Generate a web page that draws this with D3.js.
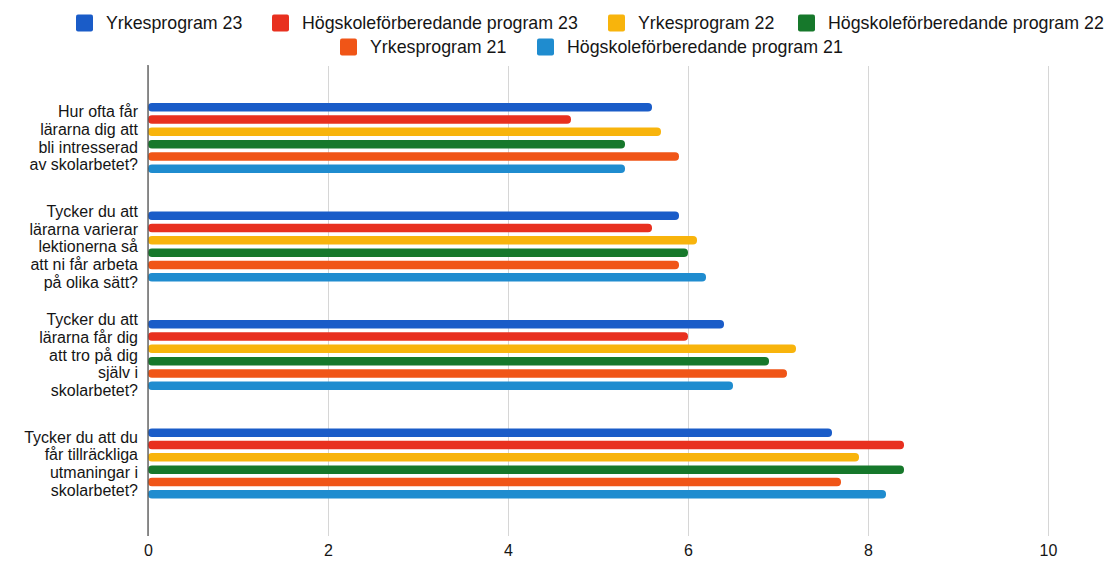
<!DOCTYPE html>
<html lang="sv">
<head>
<meta charset="UTF-8"/>
<title>Enkät - program</title>
<script src="https://d3js.org/d3.v7.min.js"></script>
<style>
	body { margin: 0; background: #fff; }
	text { font-family: "Liberation Sans", Arial, sans-serif; fill: #151515; }
</style>
</head>
<body>
<script>
	// ***data***
	var questions = [
		["Hur ofta får", "lärarna dig att", "bli intresserad", "av skolarbetet?"],
		["Tycker du att", "lärarna varierar", "lektionerna så", "att ni får arbeta", "på olika sätt?"],
		["Tycker du att", "lärarna får dig", "att tro på dig", "själv i", "skolarbetet?"],
		["Tycker du att du", "får tillräckliga", "utmaningar i", "skolarbetet?"]
	];
	var seriesNames = ["Yrkesprogram 23", "Högskoleförberedande program 23", "Yrkesprogram 22",
		"Högskoleförberedande program 22", "Yrkesprogram 21", "Högskoleförberedande program 21"];
	var colors = ["#1a5cc8", "#e8301f", "#f8b40c", "#16782b", "#f05517", "#1f8ccf"];
	var yrke23 = [5.6, 5.9, 6.4, 7.6];
	var hogsk23 = [4.7, 5.6, 6.0, 8.4];
	var yrke22 = [5.7, 6.1, 7.2, 7.9];
	var hogsk22 = [5.3, 6.0, 6.9, 8.4];
	var yrke21 = [5.9, 5.9, 7.1, 7.7];
	var hogsk21 = [5.3, 6.2, 6.5, 8.2];
	var series = [yrke23, hogsk23, yrke22, hogsk22, yrke21, hogsk21];
	var xTicks = [0, 2, 4, 6, 8, 10];

	var w = 1116, h = 564;
	var svg = d3.select("body").append("svg").attr("width", w).attr("height", h);

	var xScale = d3.scaleLinear().domain([0, 10]).range([148, 1048]);
	var yScale = d3.scaleBand().domain(d3.range(questions.length)).range([84, 518]);
	var inner = d3.scaleBand().domain(d3.range(series.length)).range([19, 89]).paddingInner(0.31);

	// gridlines + x axis labels
	svg.append("g")
		.attr("transform", "translate(0,536)")
		.call(d3.axisBottom(xScale).tickValues(xTicks).tickSize(-470).tickFormat(d3.format("d")))
		.call(function(g) {
			g.select(".domain").remove();
			g.selectAll(".tick line").attr("stroke", "#d6d6d6");
			g.selectAll(".tick text").attr("dy", 17).style("font-size", "16px")
				.style("font-family", "Liberation Sans, Arial, sans-serif").attr("fill", "#151515");
		});

	// bars
	var groups = svg.selectAll("g.q")
		.data(questions)
		.enter().append("g")
		.attr("class", "q")
		.attr("transform", function(d, i) { return "translate(0," + yScale(i) + ")"; });

	groups.selectAll("rect")
		.data(function(d, i) { return series.map(function(s, j) { return { v: s[i], j: j }; }); })
		.enter().append("rect")
		.attr("x", xScale(0))
		.attr("y", function(d) { return inner(d.j); })
		.attr("width", function(d) { return xScale(d.v) - xScale(0); })
		.attr("height", inner.bandwidth())
		.attr("rx", 4)
		.attr("fill", function(d) { return colors[d.j]; });

	// category labels
	var lh = 17.7;
	groups.append("text")
		.attr("text-anchor", "end")
		.style("font-size", "16px")
		.each(function(d) {
			var t = d3.select(this);
			var mid = yScale.bandwidth() / 2;
			var y0 = mid - (d.length - 1) * lh / 2 + 5.5;
			d.forEach(function(line, k) {
				t.append("tspan").attr("x", 138).attr("y", y0 + k * lh).text(line);
			});
		});

	// y axis line
	svg.append("line")
		.attr("x1", 148).attr("x2", 148).attr("y1", 65).attr("y2", 536)
		.attr("stroke", "#555").attr("stroke-width", 1.3);

	// legend
	var legendPos = [[76, 23], [272, 23], [608, 23], [798, 23], [340, 47], [537, 47]];
	var leg = svg.selectAll("g.leg")
		.data(seriesNames)
		.enter().append("g")
		.attr("class", "leg")
		.attr("transform", function(d, i) { return "translate(" + legendPos[i][0] + "," + legendPos[i][1] + ")"; });
	leg.append("rect")
		.attr("x", 0).attr("y", -8.5).attr("width", 17).attr("height", 17).attr("rx", 2)
		.attr("fill", function(d, i) { return colors[i]; });
	leg.append("text")
		.attr("x", 30).attr("y", 6)
		.style("font-size", "17.8px")
		.text(function(d) { return d; });
</script>
</body>
</html>
